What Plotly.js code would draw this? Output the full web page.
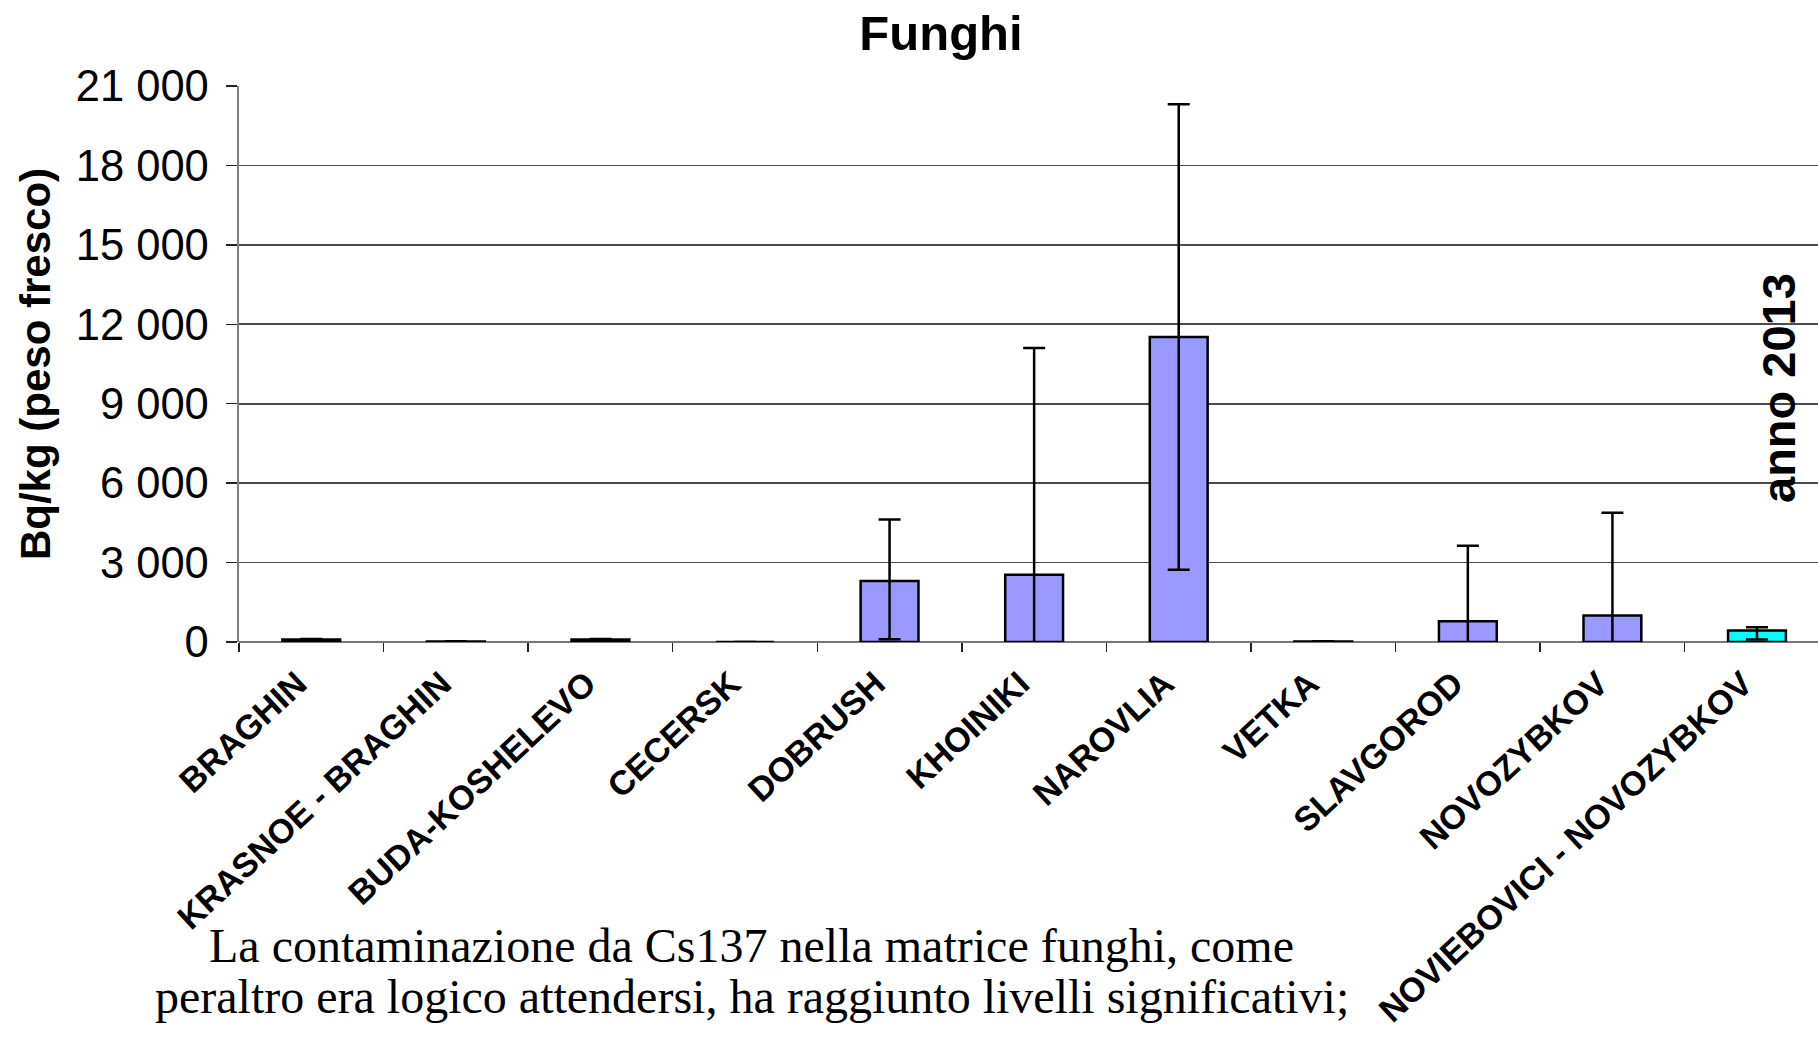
<!DOCTYPE html>
<html>
<head>
<meta charset="utf-8">
<script src="https://cdn.plot.ly/plotly-3.0.1.min.js"></script>
<style>
html,body{margin:0;padding:0;background:#fff;}
#chart{width:1818px;height:1042px;}
</style>
</head>
<body>
<div id="chart"></div>
<script>
var categories = ["BRAGHIN", "KRASNOE - BRAGHIN", "BUDA-KOSHELEVO", "CECERSK", "DOBRUSH", "KHOINIKI", "NAROVLIA", "VETKA", "SLAVGOROD", "NOVOZYBKOV", "NOVIEBOVICI - NOVOZYBKOV"];
var values = [90, 15, 90, 0, 2305, 2540, 11520, 15, 780, 1000, 430];
var errPlus = [25, 15, 25, 0, 2320, 8560, 8790, 15, 2860, 3880, 130];
var errMinus = [25, 15, 25, 0, 2205, 8560, 8790, 15, 2860, 3880, 340];
var barColors = ["#9999FF", "#9999FF", "#9999FF", "#9999FF", "#9999FF", "#9999FF", "#9999FF", "#9999FF", "#9999FF", "#9999FF", "#00FFFF"];
var yTickVals = [0, 3000, 6000, 9000, 12000, 15000, 18000, 21000];
var yTickText = ["0", "3 000", "6 000", "9 000", "12 000", "15 000", "18 000", "21 000"];
var chartTitle = "Funghi";
var yTitle = "Bq/kg (peso fresco)";
var yearNote = "anno 2013";
var noteLines = ["La contaminazione da Cs137 nella matrice funghi, come", "peraltro era logico attendersi, ha raggiunto livelli significativi;"];

var SANS = "Liberation Sans, Arial, Helvetica, sans-serif";
var SERIF = "Liberation Serif, Times New Roman, serif";

// plot geometry (pixels)
var L = 239, T = 86, W = 1818 - 239, H = 642 - 86;
function px2paperX(x){ return (x - L) / W; }
function px2paperY(y){ return (642 - y) / H; }

var trace = {
  type: "bar",
  x: categories,
  y: values,
  width: 0.4,
  marker: {color: barColors, line: {color: "#000", width: 2.5}},
  error_y: {type: "data", symmetric: false, array: errPlus, arrayminus: errMinus,
            color: "#000", thickness: 2.5, width: 11},
  hoverinfo: "x+y"
};

var annotations = [
  {text: "<b>" + yearNote + "</b>", xref: "paper", yref: "paper",
   x: px2paperX(1778), y: px2paperY(388), xanchor: "center", yanchor: "middle",
   textangle: -90, showarrow: false, font: {family: SANS, size: 47, color: "#000"}},
  {text: noteLines[0], xref: "paper", yref: "paper",
   x: px2paperX(751), y: px2paperY(945), xanchor: "center", yanchor: "middle",
   showarrow: false, font: {family: SERIF, size: 48, color: "#000"}},
  {text: noteLines[1], xref: "paper", yref: "paper",
   x: px2paperX(752), y: px2paperY(996), xanchor: "center", yanchor: "middle",
   showarrow: false, font: {family: SERIF, size: 48, color: "#000"}}
];

var layout = {
  width: 1818, height: 1042,
  margin: {l: L, r: 0, t: T, b: 400, pad: 0},
  paper_bgcolor: "#fff", plot_bgcolor: "#fff",
  showlegend: false,
  title: {text: "<b>" + chartTitle + "</b>", font: {family: SANS, size: 49, color: "#000"},
          xref: "container", x: 941 / 1818, xanchor: "center",
          yref: "container", y: 1 - 33 / 1042, yanchor: "middle"},
  xaxis: {
    type: "category", range: [-0.5, -0.5 + W / 144.57],
    tickson: "boundaries", ticks: "outside", ticklen: 9, tickwidth: 1.5, tickcolor: "#222",
    tickangle: -43, ticklabelstandoff: 14, ticklabelshift: -14,
    tickfont: {family: SANS, size: 34, color: "#000", weight: "bold"},
    showgrid: false, showline: false, zeroline: false, automargin: false
  },
  yaxis: {
    range: [0, 21000], tickvals: yTickVals, ticktext: yTickText,
    ticks: "outside", ticklen: 11, tickwidth: 1.5, tickcolor: "#222",
    ticklabelstandoff: 8,
    tickfont: {family: SANS, size: 43.5, color: "#000"},
    showgrid: true, gridcolor: "#4a4a4a", gridwidth: 1.6,
    showline: true, linecolor: "#808080", linewidth: 2.5,
    zeroline: true, zerolinecolor: "#777", zerolinewidth: 2.5,
    automargin: false,
    title: {text: "<b>" + yTitle + "</b>", font: {family: SANS, size: 42, color: "#000"}, standoff: 12}
  },
  annotations: annotations
};

Plotly.newPlot("chart", [trace], layout, {displayModeBar: false, staticPlot: true});
</script>
</body>
</html>
